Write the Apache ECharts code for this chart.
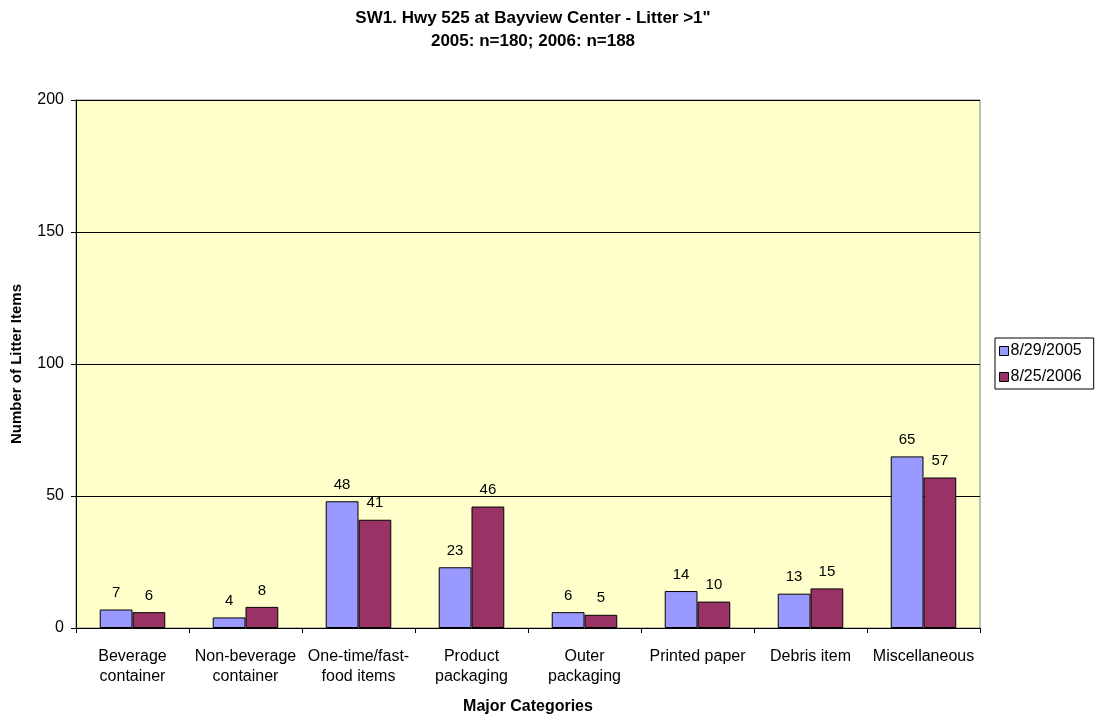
<!DOCTYPE html>
<html>
<head>
<meta charset="utf-8">
<script src="https://cdn.jsdelivr.net/npm/echarts@6/dist/echarts.min.js"></script>
<style>
  html, body { margin: 0; padding: 0; background: #fff; }
  #chart { width: 1096px; height: 715px; }
</style>
</head>
<body>
<div id="chart"></div>
<script>
const categories = [
  "Beverage\ncontainer",
  "Non-beverage\ncontainer",
  "One-time/fast-\nfood items",
  "Product\npackaging",
  "Outer\npackaging",
  "Printed paper",
  "Debris item",
  "Miscellaneous",
];
const seriesNames = ["8/29/2005", "8/25/2006"];
const values2005 = [7, 4, 48, 23, 6, 14, 13, 65];
const values2006 = [6, 8, 41, 46, 5, 10, 15, 57];
const colors = ["#9999FF", "#993366"];

const font = "Liberation Sans, Arial, sans-serif";

const makeSeries = (name, data, color) => ({
  name: name,
  type: "bar",
  data: data,
  barGap: "0%",
  barCategoryGap: "42%",
  itemStyle: { color: color, borderColor: "#000", borderWidth: 1 },
  label: {
    show: true,
    position: "top",
    distance: 9,
    color: "#000",
    fontFamily: font,
    fontSize: 15,
  },
});

const chart = echarts.init(document.getElementById("chart"));
chart.setOption({
  animation: false,
  title: {
    text: 'SW1. Hwy 525 at Bayview Center - Litter >1"\n2005: n=180; 2006: n=188',
    left: 528,
    textAlign: "center",
    top: 2,
    textStyle: { fontFamily: font, fontSize: 17, fontWeight: "bold", color: "#000", lineHeight: 23 },
  },
  legend: {
    orient: "vertical",
    left: 995,
    top: 338,
    icon: "rect",
    itemWidth: 9,
    itemHeight: 9,
    itemGap: 8,
    padding: [4, 12, 3, 4],
    borderColor: "#000",
    borderWidth: 1,
    textStyle: { fontFamily: font, fontSize: 16, color: "#000", lineHeight: 18, padding: [0, 0, 0, -3] },
    data: seriesNames.map((n) => ({ name: n, itemStyle: { borderColor: "#000", borderWidth: 1 } })),
  },
  grid: {
    left: 76,
    right: 116,
    top: 100,
    bottom: 87,
    outerBoundsMode: "none",
    show: true,
    backgroundColor: "#FFFFCC",
    borderColor: "#808080",
    borderWidth: 1,
  },
  xAxis: {
    type: "category",
    data: categories,
    name: "Major Categories",
    nameLocation: "middle",
    nameGap: 71,
    nameTextStyle: { fontFamily: font, fontSize: 16, fontWeight: "bold", color: "#000" },
    axisLine: { lineStyle: { color: "#000", width: 1 } },
    axisTick: { show: true, length: 5, lineStyle: { color: "#000" } },
    axisLabel: { fontFamily: font, fontSize: 16, color: "#000", margin: 19, lineHeight: 20, interval: 0 },
  },
  yAxis: {
    type: "value",
    min: 0,
    max: 200,
    interval: 50,
    name: "Number of Litter Items",
    nameLocation: "middle",
    nameGap: 52,
    nameTextStyle: { fontFamily: font, fontSize: 15, fontWeight: "bold", color: "#000" },
    axisLine: { show: true, lineStyle: { color: "#000", width: 1 } },
    axisTick: { show: true, length: 5, lineStyle: { color: "#000" } },
    axisLabel: { fontFamily: font, fontSize: 16, color: "#000", margin: 12 },
    splitLine: { show: true, lineStyle: { color: "#000", width: 1 } },
  },
  series: [
    makeSeries(seriesNames[0], values2005, colors[0]),
    makeSeries(seriesNames[1], values2006, colors[1]),
  ],
});
</script>
</body>
</html>
